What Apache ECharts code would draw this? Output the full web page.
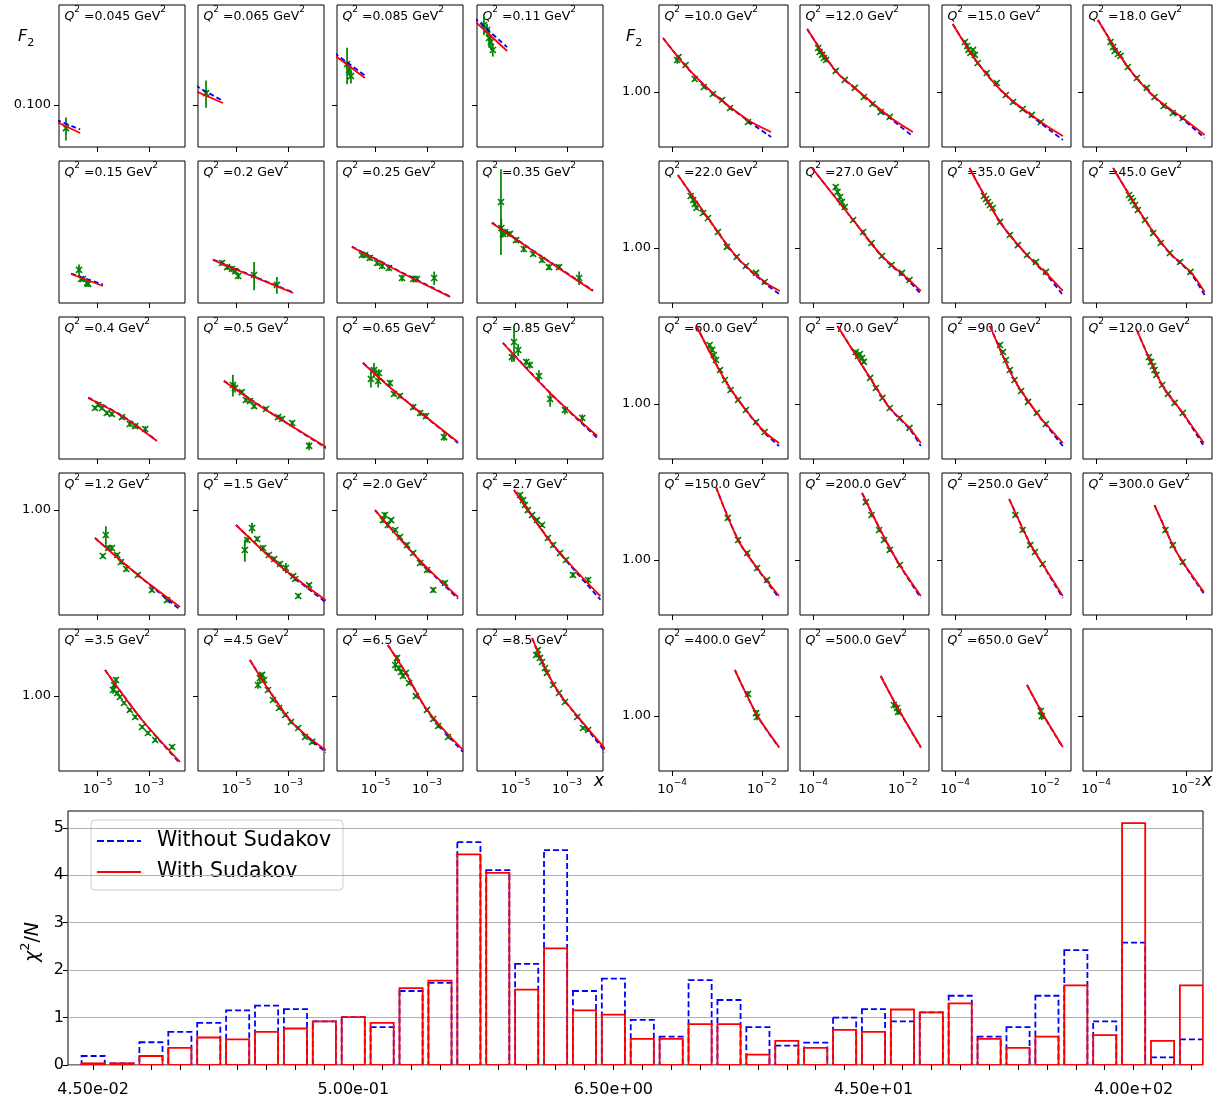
<!DOCTYPE html>
<html>
<head>
<meta charset="utf-8">
<title>F2 fits and chi2/N</title>
<script src="https://cdn.jsdelivr.net/npm/echarts@6/dist/echarts.min.js"></script>
<style>
html, body { margin: 0; padding: 0; background: #ffffff; }
#chart { width: 1231px; height: 1109px; }
</style>
</head>
<body>
<div id="chart"></div>
<script>
// Q^2 bins in GeV^2, one small panel per bin
const q2Values = [0.045, 0.065, 0.085, 0.11, 0.15, 0.2, 0.25, 0.35, 0.4, 0.5, 0.65, 0.85,
  1.2, 1.5, 2.0, 2.7, 3.5, 4.5, 6.5, 8.5, 10.0, 12.0, 15.0, 18.0, 22.0, 27.0, 35.0, 45.0,
  60.0, 70.0, 90.0, 120.0, 150.0, 200.0, 250.0, 300.0, 400.0, 500.0, 650.0];

// chi^2/N of each Q^2 bin
const chi2Without = [0.19, 0.035, 0.48, 0.70, 0.89, 1.15, 1.25, 1.18, 0.92, 1.01, 0.80, 1.56, 1.73,
  4.70, 4.11, 2.13, 4.53, 1.56, 1.82, 0.95, 0.60, 1.79, 1.37, 0.80, 0.41, 0.47, 1.00, 1.18, 0.92,
  1.11, 1.46, 0.60, 0.80, 1.46, 2.42, 0.92, 2.58, 0.16, 0.54];
const chi2With = [0.035, 0.035, 0.19, 0.36, 0.58, 0.54, 0.70, 0.77, 0.92, 1.01, 0.89, 1.62, 1.78,
  4.44, 4.05, 1.59, 2.46, 1.15, 1.06, 0.55, 0.55, 0.86, 0.86, 0.22, 0.51, 0.36, 0.74, 0.70, 1.17,
  1.11, 1.30, 0.55, 0.36, 0.60, 1.68, 0.63, 5.10, 0.51, 1.68];

// model F2(x) per bin: x nodes, F2 with Sudakov factor, F2 without it
const curveX = [
  [2.5e-7, 2.1e-6],
  [2.5e-7, 2.95e-6],
  [2.5e-7, 3.9e-6],
  [2.5e-7, 4.7e-6],
  [9.3e-7, 1.62e-5],
  [1.2e-6, 4.8e-5, 1.6e-3],
  [1.2e-6, 1.07e-4, 7.9e-3],
  [1.2e-6, 1.07e-4, 1.02e-2],
  [4.3e-6, 8.9e-5, 2.0e-3],
  [3.2e-6, 1.4e-4, 3.2e-2],
  [3.2e-6, 8.9e-5, 1.6e-2],
  [3.2e-6, 2.2e-4, 1.5e-2],
  [7.9e-6, 3.7e-4, 1.6e-2],
  [9.5e-6, 4.9e-4, 3.3e-2],
  [9.5e-6, 5.4e-4, 1.6e-2],
  [8.7e-6, 2.9e-4, 2.0e-2],
  [1.95e-5, 5.4e-4, 1.6e-2],
  [3.3e-5, 1.3e-3, 3.3e-2],
  [3.0e-5, 1.5e-4, 1.0e-3, 2.5e-2],
  [4.4e-5, 1.4e-4, 4.9e-4, 2.5e-3, 3.3e-2],
  [6.3e-5, 2.0e-4, 8.1e-4, 4.9e-3, 1.6e-2],
  [7.4e-5, 3.2e-4, 8.5e-4, 5.1e-3, 1.66e-2],
  [8.9e-5, 3.2e-4, 1.35e-3, 8.1e-3, 2.5e-2],
  [1.1e-4, 5.1e-4, 2.0e-3, 8.5e-3, 2.6e-2],
  [1.35e-4, 6.3e-4, 2.75e-3, 1.15e-2, 2.5e-2],
  [9.5e-5, 7.8e-4, 3.4e-3, 1.4e-2, 2.5e-2],
  [2.1e-4, 1.0e-3, 4.0e-3, 1.05e-2, 2.5e-2],
  [2.4e-4, 1.23e-3, 4.4e-3, 1.26e-2, 2.6e-2],
  [3.5e-4, 1.5e-3, 4.4e-3, 1.15e-2, 2.4e-2],
  [3.5e-4, 1.86e-3, 5.1e-3, 1.4e-2, 2.5e-2],
  [6.0e-4, 2.1e-3, 6.6e-3, 1.05e-2, 2.5e-2],
  [8.1e-4, 2.95e-3, 8.5e-3, 2.5e-2],
  [9.5e-4, 2.95e-3, 7.8e-3, 2.4e-2],
  [1.23e-3, 3.4e-3, 8.5e-3, 2.5e-2],
  [1.6e-3, 4.7e-3, 8.9e-3, 2.5e-2],
  [2.0e-3, 5.1e-3, 8.5e-3, 2.5e-2],
  [2.5e-3, 7.8e-3, 2.4e-2],
  [3.2e-3, 7.8e-3, 2.5e-2],
  [4.0e-3, 8.5e-3, 2.5e-2]
];
const curveWith = [
  [0.0815, 0.0711],
  [0.1185, 0.1024],
  [0.183, 0.1388],
  [0.278, 0.1927],
  [0.1667, 0.1455],
  [0.1954, 0.1611, 0.1344],
  [0.2264, 0.1686, 0.1284],
  [0.2972, 0.2021, 0.1375],
  [0.3816, 0.3152, 0.2419],
  [0.4569, 0.336, 0.226],
  [0.5529, 0.3898, 0.2393],
  [0.6834, 0.4023, 0.2551],
  [0.7258, 0.4747, 0.3289],
  [0.8425, 0.5264, 0.3523],
  [1.0, 0.5575, 0.3687],
  [1.259, 0.6697, 0.372],
  [1.375, 0.7462, 0.4466],
  [1.554, 0.7372, 0.5109],
  [1.867, 1.326, 0.8435, 0.5172],
  [2.034, 1.409, 1.038, 0.785, 0.5172],
  [1.979, 1.39, 0.9883, 0.703, 0.6043],
  [2.216, 1.305, 1.053, 0.7303, 0.6043],
  [2.36, 1.443, 0.9638, 0.6855, 0.5746],
  [2.483, 1.372, 0.9397, 0.7211, 0.5819],
  [2.514, 1.461, 0.8937, 0.6518, 0.5819],
  [2.746, 1.425, 0.9049, 0.665, 0.5819],
  [2.746, 1.39, 0.9163, 0.73, 0.5819],
  [2.746, 1.425, 0.9397, 0.7396, 0.5746],
  [2.678, 1.355, 0.9279, 0.703, 0.6119],
  [2.678, 1.39, 0.9517, 0.7396, 0.6119],
  [2.678, 1.355, 0.8937, 0.7777, 0.6119],
  [2.546, 1.272, 0.8937, 0.6119],
  [2.514, 1.288, 0.9049, 0.6355],
  [2.331, 1.407, 0.9397, 0.6355],
  [2.161, 1.225, 0.95, 0.6355],
  [2.003, 1.209, 0.9759, 0.6683],
  [1.788, 1.014, 0.6768],
  [1.658, 1.1, 0.6768],
  [1.48, 1.05, 0.6768]
];
const curveWithout = [
  [0.0835, 0.0742],
  [0.1265, 0.105],
  [0.188, 0.143],
  [0.288, 0.202],
  [0.1675, 0.148],
  [0.1965, 0.162, 0.1352],
  [0.2275, 0.1695, 0.1292],
  [0.2985, 0.203, 0.1385],
  [0.383, 0.3165, 0.243],
  [0.458, 0.337, 0.224],
  [0.555, 0.391, 0.237],
  [0.685, 0.403, 0.25],
  [0.7265, 0.4745, 0.319],
  [0.843, 0.526, 0.343],
  [1.0, 0.557, 0.362],
  [1.259, 0.669, 0.358],
  [1.375, 0.745, 0.44],
  [1.554, 0.736, 0.4985],
  [1.867, 1.325, 0.842, 0.5047],
  [2.034, 1.408, 1.036, 0.78, 0.4985],
  [1.979, 1.39, 0.985, 0.695, 0.5673],
  [2.216, 1.305, 1.05, 0.722, 0.572],
  [2.36, 1.443, 0.96, 0.675, 0.5465],
  [2.483, 1.372, 0.936, 0.71, 0.5604],
  [2.514, 1.461, 0.89, 0.642, 0.558],
  [2.746, 1.425, 0.9, 0.655, 0.5604],
  [2.746, 1.39, 0.912, 0.72, 0.5531],
  [2.746, 1.425, 0.935, 0.73, 0.5531],
  [2.678, 1.355, 0.925, 0.695, 0.5891],
  [2.678, 1.39, 0.948, 0.73, 0.5891],
  [2.678, 1.355, 0.89, 0.77, 0.5891],
  [2.546, 1.272, 0.89, 0.5891],
  [2.514, 1.288, 0.9, 0.6198],
  [2.331, 1.407, 0.935, 0.6198],
  [2.161, 1.225, 0.945, 0.6198],
  [2.003, 1.209, 0.972, 0.6545],
  [1.79, 1.01, 0.672],
  [1.66, 1.097, 0.672],
  [1.482, 1.047, 0.672]
];

// measured F2 per bin: x, F2, error
const dataX = [
  [5.9e-7],
  [6.5e-7],
  [7.8e-7, 9.3e-7, 1.1e-6],
  [5.9e-7, 7.8e-7, 9.3e-7, 1.1e-6, 1.3e-6],
  [1.9e-6, 2.3e-6, 2.7e-6, 3.9e-6, 4.3e-6],
  [2.7e-6, 4.3e-6, 6.6e-6, 8.7e-6, 1.15e-5, 4.8e-5, 3.7e-4],
  [2.95e-6, 3.9e-6, 6.0e-6, 1.15e-5, 1.8e-5, 3.3e-5, 1.07e-4, 2.9e-4, 4.1e-4, 1.9e-3],
  [2.7e-6, 2.8e-6, 3.2e-6, 3.9e-6, 6.0e-6, 1.05e-5, 2.1e-5, 4.8e-5, 1.07e-4, 2.0e-4, 4.9e-4, 2.95e-3],
  [7.9e-6, 1.05e-5, 1.5e-5, 2.3e-5, 3.6e-5, 8.9e-5, 1.8e-4, 2.9e-4, 7.1e-4],
  [7.2e-6, 8.7e-6, 1.6e-5, 2.3e-5, 3.3e-5, 4.8e-5, 1.4e-4, 4.1e-4, 5.9e-4, 1.45e-3, 6.6e-3],
  [6.6e-6, 8.7e-6, 1.26e-5, 1.35e-5, 3.6e-5, 5.2e-5, 8.9e-5, 2.9e-4, 5.4e-4, 9.1e-4, 4.6e-3],
  [7.2e-6, 8.7e-6, 1.26e-5, 2.6e-5, 3.6e-5, 8.1e-5, 2.2e-4, 8.3e-4, 3.9e-3],
  [1.6e-5, 2.1e-5, 2.6e-5, 3.6e-5, 5.8e-5, 8.1e-5, 1.3e-4, 3.7e-4, 1.3e-3, 5.0e-3],
  [2.1e-5, 2.6e-5, 4.0e-5, 6.3e-5, 1.07e-4, 1.8e-4, 2.9e-4, 4.9e-4, 8.3e-4, 1.6e-3, 1.9e-3, 6.6e-3, 2.5e-3],
  [1.95e-5, 2.3e-5, 3.0e-5, 4.0e-5, 5.8e-5, 8.9e-5, 1.66e-4, 2.9e-4, 5.4e-4, 1.0e-3, 1.74e-3, 5.0e-3],
  [1.5e-5, 1.95e-5, 2.3e-5, 3.0e-5, 4.4e-5, 6.8e-5, 1.07e-4, 1.8e-4, 2.9e-4, 5.4e-4, 9.1e-4, 1.7e-3, 6.6e-3],
  [4.0e-5, 4.4e-5, 5.2e-5, 5.8e-5, 7.4e-5, 1.07e-4, 1.8e-4, 2.9e-4, 5.4e-4, 9.1e-4, 1.74e-3, 7.9e-3],
  [6.8e-5, 8.1e-5, 9.8e-5, 1.17e-4, 1.66e-4, 2.6e-4, 4.5e-4, 7.8e-4, 1.3e-3, 2.5e-3, 4.6e-3, 8.7e-3],
  [5.8e-5, 6.8e-5, 8.1e-5, 9.8e-5, 1.17e-4, 1.5e-4, 2.0e-4, 3.7e-4, 1.0e-3, 1.74e-3, 2.7e-3, 6.6e-3],
  [6.3e-5, 7.4e-5, 8.9e-5, 1.07e-4, 1.4e-4, 1.66e-4, 2.9e-4, 4.9e-4, 8.3e-4, 2.5e-3, 4.2e-3, 6.6e-3],
  [1.3e-4, 1.4e-4, 2.0e-4, 3.2e-4, 5.1e-4, 8.1e-4, 1.3e-3, 1.95e-3, 4.9e-3],
  [1.3e-4, 1.4e-4, 1.6e-4, 1.74e-4, 1.95e-4, 3.2e-4, 5.1e-4, 8.5e-4, 1.35e-3, 2.1e-3, 3.2e-3, 5.1e-3],
  [1.66e-4, 1.86e-4, 2.0e-4, 2.2e-4, 2.5e-4, 2.75e-4, 3.2e-4, 5.1e-4, 8.5e-4, 1.35e-3, 1.95e-3, 3.2e-3, 5.1e-3, 8.1e-3],
  [2.1e-4, 2.4e-4, 2.6e-4, 3.1e-4, 3.5e-4, 5.1e-4, 8.1e-4, 1.35e-3, 2.0e-3, 3.2e-3, 5.1e-3, 8.5e-3],
  [2.6e-4, 2.95e-4, 3.2e-4, 3.5e-4, 4.9e-4, 6.3e-4, 1.05e-3, 1.66e-3, 2.75e-3, 4.4e-3, 7.4e-3, 1.15e-2],
  [3.2e-4, 3.5e-4, 4.0e-4, 4.4e-4, 5.1e-4, 7.8e-4, 1.3e-3, 2.0e-3, 3.4e-3, 5.6e-3, 9.5e-3, 1.4e-2],
  [4.4e-4, 4.9e-4, 5.4e-4, 6.0e-4, 6.9e-4, 1.0e-3, 1.66e-3, 2.5e-3, 4.0e-3, 6.3e-3, 1.05e-2],
  [5.4e-4, 6.0e-4, 6.6e-4, 7.4e-4, 8.5e-4, 1.23e-3, 1.86e-3, 2.75e-3, 4.4e-3, 7.4e-3, 1.26e-2],
  [6.9e-4, 7.8e-4, 8.5e-4, 9.5e-4, 1.17e-3, 1.5e-3, 2.0e-3, 2.95e-3, 4.4e-3, 7.4e-3, 1.15e-2],
  [8.9e-4, 1.0e-3, 1.1e-3, 1.23e-3, 1.35e-3, 1.86e-3, 2.5e-3, 3.5e-3, 5.1e-3, 8.5e-3, 1.4e-2],
  [1.0e-3, 1.17e-3, 1.35e-3, 1.66e-3, 2.1e-3, 2.95e-3, 4.2e-3, 6.6e-3, 1.05e-2],
  [1.5e-3, 1.66e-3, 1.86e-3, 2.0e-3, 2.2e-3, 2.95e-3, 4.0e-3, 5.6e-3, 8.5e-3],
  [1.74e-3, 2.95e-3, 4.7e-3, 7.8e-3, 1.3e-2],
  [1.5e-3, 2.0e-3, 2.95e-3, 3.8e-3, 5.1e-3, 8.5e-3],
  [2.2e-3, 3.2e-3, 4.7e-3, 6.0e-3, 8.9e-3],
  [3.5e-3, 5.1e-3, 8.5e-3],
  [4.9e-3, 7.4e-3, 7.8e-3],
  [6.3e-3, 7.4e-3, 7.8e-3],
  [8.1e-3, 8.5e-3]
];
const dataF2 = [
  [0.0755],
  [0.1156],
  [0.1645, 0.153, 0.142],
  [0.2643, 0.2487, 0.2257, 0.215, 0.195],
  [0.1745, 0.1575, 0.1575, 0.1505, 0.1489],
  [0.1888, 0.1804, 0.1764, 0.1724, 0.163, 0.1648, 0.1472],
  [0.2067, 0.2067, 0.1999, 0.1888, 0.1825, 0.1784, 0.1593, 0.1575, 0.1575, 0.1593],
  [0.377, 0.2808, 0.2624, 0.2684, 0.2624, 0.245, 0.2213, 0.2091, 0.1954, 0.1804, 0.1804, 0.1593],
  [0.3432, 0.3543, 0.3432, 0.3255, 0.3221, 0.3119, 0.2897, 0.2836, 0.2748],
  [0.438, 0.4241, 0.4065, 0.3736, 0.3696, 0.3505, 0.3396, 0.3119, 0.3055, 0.2928, 0.2296],
  [0.4667, 0.5132, 0.4569, 0.4972, 0.4473, 0.3981, 0.3898, 0.3468, 0.3255, 0.3152, 0.2524],
  [0.589, 0.6906, 0.6344, 0.5588, 0.5413, 0.4817, 0.3776, 0.336, 0.3087],
  [0.5903, 0.7511, 0.6471, 0.6471, 0.5971, 0.5511, 0.5085, 0.4747, 0.3996, 0.3562],
  [0.6324, 0.7094, 0.814, 0.7176, 0.6471, 0.5971, 0.5704, 0.5386, 0.5144, 0.4692, 0.4534, 0.4231, 0.373],
  [0.892, 0.945, 0.8425, 0.892, 0.7956, 0.7342, 0.6697, 0.6109, 0.5448, 0.5027, 0.3996, 0.4331],
  [1.189, 1.122, 1.06, 1.0, 0.945, 0.892, 0.8425, 0.7258, 0.6697, 0.6109, 0.5639, 0.4747, 0.4482],
  [1.077, 1.145, 1.217, 1.038, 0.9886, 0.9188, 0.8435, 0.774, 0.685, 0.6365, 0.5843, 0.5364],
  [1.145, 1.247, 1.294, 1.217, 1.077, 0.953, 0.8641, 0.7934, 0.7283, 0.6767, 0.6062, 0.5704],
  [1.462, 1.593, 1.409, 1.342, 1.278, 1.326, 1.173, 1.0, 0.8435, 0.7554, 0.6936, 0.6062],
  [1.652, 1.756, 1.593, 1.516, 1.409, 1.326, 1.145, 1.038, 0.93, 0.774, 0.6767, 0.6603],
  [1.499, 1.557, 1.407, 1.179, 1.066, 0.9759, 0.9049, 0.818, 0.6855],
  [1.744, 1.658, 1.597, 1.537, 1.499, 1.305, 1.165, 1.053, 0.9397, 0.8602, 0.7777, 0.7303],
  [1.881, 1.788, 1.701, 1.637, 1.701, 1.597, 1.443, 1.272, 1.121, 0.9638, 0.882, 0.8077, 0.749, 0.6855],
  [1.881, 1.766, 1.679, 1.617, 1.577, 1.372, 1.194, 1.053, 0.9397, 0.8389, 0.768, 0.7211],
  [1.929, 1.834, 1.744, 1.658, 1.557, 1.461, 1.225, 1.014, 0.8937, 0.7975, 0.7303, 0.6518],
  [2.161, 2.029, 1.905, 1.788, 1.679, 1.425, 1.225, 1.066, 0.9049, 0.8077, 0.7303, 0.6683],
  [1.929, 1.857, 1.788, 1.722, 1.658, 1.39, 1.179, 1.039, 0.9163, 0.8389, 0.7396],
  [1.953, 1.881, 1.811, 1.722, 1.617, 1.425, 1.209, 1.066, 0.9397, 0.8389, 0.7396],
  [2.107, 1.979, 1.857, 1.744, 1.537, 1.355, 1.194, 1.053, 0.9279, 0.7975, 0.703],
  [1.929, 1.834, 1.881, 1.788, 1.701, 1.39, 1.225, 1.08, 0.9517, 0.8389, 0.7396],
  [2.107, 1.929, 1.744, 1.537, 1.355, 1.179, 1.027, 0.8937, 0.7777],
  [1.811, 1.701, 1.617, 1.537, 1.443, 1.272, 1.136, 1.014, 0.8937],
  [1.701, 1.288, 1.093, 0.9049, 0.7777],
  [2.08, 1.766, 1.461, 1.288, 1.136, 0.9397],
  [1.766, 1.461, 1.209, 1.107, 0.9517],
  [1.461, 1.209, 0.9759],
  [1.321, 1.039, 0.9883],
  [1.15, 1.107, 1.053],
  [1.066, 1.0]
];
const dataErr = [
  [0.0105],
  [0.019],
  [0.036, 0.01, 0.012],
  [0.03, 0.02, 0.025, 0.02, 0.015],
  [0.011, 0.004, 0.004, 0.005, 0.005],
  [0.006, 0.006, 0.006, 0.006, 0.006, 0.026, 0.014],
  [0.006, 0.006, 0.006, 0.006, 0.006, 0.006, 0.006, 0.006, 0.006, 0.012],
  [0.17, 0.03, 0.01, 0.01, 0.008, 0.008, 0.008, 0.006, 0.006, 0.006, 0.006, 0.012],
  [0.008, 0.008, 0.008, 0.008, 0.008, 0.008, 0.008, 0.008, 0.008],
  [0.05, 0.02, 0.01, 0.01, 0.01, 0.01, 0.008, 0.008, 0.008, 0.008, 0.01],
  [0.04, 0.04, 0.03, 0.02, 0.015, 0.01, 0.01, 0.01, 0.01, 0.01, 0.01],
  [0.03, 0.13, 0.04, 0.02, 0.02, 0.03, 0.03, 0.015, 0.012],
  [0.015, 0.08, 0.02, 0.02, 0.015, 0.015, 0.015, 0.012, 0.01, 0.01],
  [0.08, 0.02, 0.05, 0.02, 0.02, 0.015, 0.015, 0.015, 0.03, 0.012, 0.012, 0.01, 0.01],
  [0.03, 0.03, 0.03, 0.02, 0.02, 0.02, 0.02, 0.015, 0.015, 0.015, 0.012, 0.012],
  [0.03, 0.03, 0.03, 0.03, 0.02, 0.02, 0.02, 0.02, 0.02, 0.015, 0.015, 0.015, 0.015],
  [0.05, 0.06, 0.04, 0.03, 0.02, 0.02, 0.02, 0.02, 0.015, 0.015, 0.015, 0.015],
  [0.05, 0.07, 0.04, 0.04, 0.03, 0.02, 0.02, 0.02, 0.015, 0.015, 0.015, 0.015],
  [0.1, 0.06, 0.05, 0.04, 0.04, 0.03, 0.03, 0.02, 0.02, 0.02, 0.02, 0.015],
  [0.05, 0.05, 0.04, 0.04, 0.03, 0.03, 0.02, 0.02, 0.02, 0.015, 0.015, 0.015],
  [0.07, 0.04, 0.03, 0.03, 0.02, 0.02, 0.02, 0.02, 0.015],
  [0.05, 0.05, 0.04, 0.04, 0.04, 0.03, 0.02, 0.02, 0.02, 0.02, 0.015, 0.015],
  [0.05, 0.05, 0.04, 0.04, 0.04, 0.04, 0.03, 0.03, 0.02, 0.02, 0.02, 0.02, 0.015, 0.015],
  [0.05, 0.05, 0.04, 0.04, 0.04, 0.03, 0.03, 0.02, 0.02, 0.02, 0.015, 0.015],
  [0.05, 0.05, 0.04, 0.04, 0.04, 0.03, 0.03, 0.02, 0.02, 0.02, 0.015, 0.015],
  [0.06, 0.05, 0.05, 0.04, 0.04, 0.03, 0.03, 0.02, 0.02, 0.02, 0.015, 0.015],
  [0.05, 0.05, 0.04, 0.04, 0.04, 0.03, 0.03, 0.02, 0.02, 0.02, 0.015],
  [0.05, 0.05, 0.04, 0.04, 0.04, 0.03, 0.03, 0.02, 0.02, 0.02, 0.015],
  [0.05, 0.05, 0.04, 0.04, 0.04, 0.03, 0.03, 0.02, 0.02, 0.02, 0.015],
  [0.05, 0.05, 0.04, 0.04, 0.04, 0.03, 0.03, 0.02, 0.02, 0.02, 0.015],
  [0.06, 0.05, 0.04, 0.04, 0.03, 0.03, 0.02, 0.02, 0.02],
  [0.06, 0.05, 0.04, 0.04, 0.03, 0.03, 0.02, 0.02, 0.02],
  [0.05, 0.04, 0.03, 0.03, 0.02],
  [0.06, 0.05, 0.04, 0.03, 0.03, 0.02],
  [0.05, 0.04, 0.03, 0.03, 0.02],
  [0.05, 0.04, 0.03],
  [0.05, 0.04, 0.04],
  [0.05, 0.05, 0.04],
  [0.05, 0.05]
];

// axis limits and tick values
const leftXRange = [3.16e-7, 2.51e-2];
const rightXRange = [5.13e-5, 3.8e-2];
const leftXTicks = [1e-5, 1e-3];
const rightXTicks = [1e-4, 1e-2];
const leftRowYRange = [[0.06, 0.337], [0.12, 0.6], [0.2, 0.9], [0.3, 1.53], [0.4, 2.27]];
const rightYRange = [0.5, 3.0];
const leftRowYTicks = [[0.1], [], [], [1], [1]];
const rightYTicks = [1];
const chiTicks = [0, 1, 2, 3, 4, 5];
const chiRange = [0, 5.355];
const binRange = [-0.87, 38.4];

// page layout (px)
const leftCols = [59, 198, 337, 477], leftW = 126;
const rightCols = [659, 800, 942, 1083], rightW = 129;
const rowTops = [5, 161, 317, 473, 629], panelH = 142;
const chiGrid = { left: 68, top: 811, width: 1135, height: 254 };

const FAMILY = 'DejaVu Sans';
const GREEN = '#008000', BLUE = '#0000ff', RED = '#ff0000';

function q2Text(v) { return Number.isInteger(v) ? v.toFixed(1) : String(v); }
function sciText(v) {
  const parts = v.toExponential(2).split('e');
  const n = parseInt(parts[1], 10);
  return parts[0] + 'e' + (n < 0 ? '-' : '+') + String(Math.abs(n)).padStart(2, '0');
}
function powerText(v) {
  const n = Math.round(Math.log10(v));
  return '{b|10}{s|' + (n < 0 ? '\u2212' : '') + Math.abs(n) + '}';
}

const powerRich = {
  b: { fontFamily: FAMILY, fontSize: 13, color: '#000', lineHeight: 18, verticalAlign: 'bottom' },
  s: { fontFamily: FAMILY, fontSize: 9, color: '#000', lineHeight: 9, verticalAlign: 'top' }
};
const titleRich = {
  q: { fontFamily: FAMILY, fontStyle: 'italic', fontSize: 12.5, fill: '#000', lineHeight: 18, verticalAlign: 'bottom' },
  t: { fontFamily: FAMILY, fontSize: 12.5, fill: '#000', lineHeight: 18, verticalAlign: 'bottom' },
  s: { fontFamily: FAMILY, fontSize: 9, fill: '#000', lineHeight: 9, verticalAlign: 'top' }
};

const grids = [], xAxes = [], yAxes = [], series = [], graphics = [];

// vertical error bar plus an 'x' marker at each measurement
function errorMarks(params, api) {
  const x = api.value(0), y = api.value(1), e = api.value(2);
  const c = api.coord([x, y]);
  const t = api.coord([x, y + e]);
  const b = api.coord([x, y - e]);
  const m = 3;
  const st = { stroke: GREEN, lineWidth: 1.7 };
  return {
    type: 'group',
    children: [
      { type: 'line', shape: { x1: c[0], y1: t[1], x2: c[0], y2: b[1] }, style: st },
      { type: 'line', shape: { x1: c[0] - m, y1: c[1] - m, x2: c[0] + m, y2: c[1] + m }, style: st },
      { type: 'line', shape: { x1: c[0] - m, y1: c[1] + m, x2: c[0] + m, y2: c[1] - m }, style: st }
    ]
  };
}

for (let p = 0; p < 40; p++) {
  const onRight = p >= 20;
  const k = p % 20, r = Math.floor(k / 4), c = k % 4;
  const left = onRight ? rightCols[c] : leftCols[c];
  const w = onRight ? rightW : leftW;
  const top = rowTops[r];
  grids.push({
    left: left, top: top, width: w, height: panelH,
    show: true, borderColor: '#000', borderWidth: 1, backgroundColor: 'transparent',
    containLabel: false, outerBoundsMode: 'none'
  });
  const xr = onRight ? rightXRange : leftXRange;
  const xt = onRight ? rightXTicks : leftXTicks;
  xAxes.push({
    gridIndex: p, type: 'log', logBase: 10, min: xr[0], max: xr[1],
    axisLine: { show: false }, splitLine: { show: false }, minorTick: { show: false },
    axisTick: { show: true, length: 5, customValues: xt, lineStyle: { color: '#000', width: 1 } },
    axisLabel: { show: r === 4, customValues: xt, formatter: powerText, rich: powerRich, margin: 7 }
  });
  const yr = onRight ? rightYRange : leftRowYRange[r];
  const yt = onRight ? rightYTicks : leftRowYTicks[r];
  yAxes.push({
    gridIndex: p, type: 'log', logBase: 10, min: yr[0], max: yr[1],
    axisLine: { show: false }, splitLine: { show: false }, minorTick: { show: false },
    axisTick: { show: yt.length > 0, length: 5, customValues: yt, lineStyle: { color: '#000', width: 1 } },
    axisLabel: {
      show: c === 0 && yt.length > 0, customValues: yt,
      formatter: function (v) { return Number(v).toPrecision(3); },
      fontFamily: FAMILY, fontSize: 13, color: '#000', margin: 8
    }
  });

  if (p >= q2Values.length) continue;

  series.push({
    type: 'custom', name: 'data', xAxisIndex: p, yAxisIndex: p, z: 2, silent: true,
    data: dataX[p].map(function (x, j) { return [x, dataF2[p][j], dataErr[p][j]]; }),
    renderItem: errorMarks
  });
  series.push({
    type: 'line', name: 'Without Sudakov', xAxisIndex: p, yAxisIndex: p, z: 3, silent: true,
    data: curveX[p].map(function (x, j) { return [x, curveWithout[p][j]]; }),
    showSymbol: false, symbol: 'none', smooth: 0.3, clip: true,
    lineStyle: { color: BLUE, width: 1.8, type: [5, 3] }
  });
  series.push({
    type: 'line', name: 'With Sudakov', xAxisIndex: p, yAxisIndex: p, z: 4, silent: true,
    data: curveX[p].map(function (x, j) { return [x, curveWith[p][j]]; }),
    showSymbol: false, symbol: 'none', smooth: 0.3, clip: true,
    lineStyle: { color: RED, width: 1.8, type: 'solid' }
  });

  graphics.push({
    type: 'text', x: left + 5.5, y: top, z: 1, silent: true,
    style: {
      text: '{q|Q}{s|2}{t| =' + q2Text(q2Values[p]) + ' GeV}{s|2}',
      fill: '#000', verticalAlign: 'top', align: 'left', rich: titleRich
    }
  });
}

// chi^2/N comparison at the bottom
const CHI = 40;
grids.push({
  left: chiGrid.left, top: chiGrid.top, width: chiGrid.width, height: chiGrid.height,
  show: true, borderColor: '#000', borderWidth: 1, backgroundColor: 'transparent',
  containLabel: false, outerBoundsMode: 'none'
});
const binIndex = q2Values.map(function (v, i) { return i; });
xAxes.push({
  gridIndex: CHI, type: 'value', min: binRange[0], max: binRange[1],
  axisLine: { show: false, onZero: false }, splitLine: { show: false },
  axisTick: { show: true, length: 5, customValues: binIndex, lineStyle: { color: '#000' } },
  axisLabel: {
    customValues: binIndex.filter(function (i) { return i % 9 === 0; }),
    formatter: function (v) { return sciText(q2Values[Math.round(v)]); },
    fontFamily: FAMILY, fontSize: 16, color: '#000', margin: 17
  }
});
yAxes.push({
  gridIndex: CHI, type: 'value', min: chiRange[0], max: chiRange[1], interval: 1,
  axisLine: { show: false, onZero: false },
  splitLine: { show: true, lineStyle: { color: '#b0b0b0', width: 1 } },
  axisTick: { show: true, length: 5, customValues: chiTicks, lineStyle: { color: '#000' } },
  axisLabel: { customValues: chiTicks, fontFamily: FAMILY, fontSize: 16, color: '#000', margin: 4 }
});

// outline-only bars, one per Q^2 bin
function outlineBars(values, color, dash, z, name) {
  return {
    type: 'custom', name: name, xAxisIndex: CHI, yAxisIndex: CHI, z: z, clip: true, silent: true,
    data: values.map(function (v, i) { return [i, v]; }),
    renderItem: function (params, api) {
      const i = api.value(0), v = api.value(1);
      const a = api.coord([i - 0.4, v]);
      const b = api.coord([i + 0.4, 0]);
      return {
        type: 'rect',
        shape: { x: a[0], y: a[1], width: b[0] - a[0], height: b[1] - a[1] },
        style: { fill: 'none', stroke: color, lineWidth: 1.8, lineDash: dash }
      };
    }
  };
}
series.push(outlineBars(chi2Without, BLUE, [6, 3], 3, 'Without Sudakov'));
series.push(outlineBars(chi2With, RED, null, 4, 'With Sudakov'));

// axis titles and legend
const f2Rich = {
  f: { fontFamily: FAMILY, fontStyle: 'italic', fontSize: 16, fill: '#000', lineHeight: 20, verticalAlign: 'top' },
  u: { fontFamily: FAMILY, fontSize: 11, fill: '#000', lineHeight: 11, verticalAlign: 'bottom' }
};
[18, 626].forEach(function (xp) {
  graphics.push({
    type: 'text', x: xp, y: 29, silent: true,
    style: { text: '{f|F}{u|2}', fill: '#000', verticalAlign: 'top', rich: f2Rich }
  });
});
[594, 1202].forEach(function (xp) {
  graphics.push({
    type: 'text', x: xp, y: 782, silent: true,
    style: { text: 'x', fill: '#000', font: 'italic 17px "DejaVu Sans"', verticalAlign: 'middle', align: 'left' }
  });
});
graphics.push({
  type: 'text', x: 31, y: 942, rotation: Math.PI / 2, silent: true,
  style: {
    text: '{c|\u03c7}{s|2}{n|/}{c|N}', fill: '#000', align: 'center', verticalAlign: 'middle',
    rich: {
      c: { fontFamily: FAMILY, fontStyle: 'italic', fontSize: 19, fill: '#000', lineHeight: 24, verticalAlign: 'bottom' },
      n: { fontFamily: FAMILY, fontSize: 19, fill: '#000', lineHeight: 24, verticalAlign: 'bottom' },
      s: { fontFamily: FAMILY, fontSize: 13, fill: '#000', lineHeight: 13, verticalAlign: 'top' }
    }
  }
});
graphics.push({
  type: 'group', silent: true, z: 10,
  children: [
    { type: 'rect', shape: { x: 91, y: 820, width: 252, height: 70, r: 4 },
      style: { fill: 'rgba(255,255,255,0.8)', stroke: '#cccccc', lineWidth: 1 } },
    { type: 'line', shape: { x1: 97, y1: 841, x2: 141, y2: 841 },
      style: { stroke: BLUE, lineWidth: 2, lineDash: [7, 3] } },
    { type: 'line', shape: { x1: 97, y1: 872, x2: 141, y2: 872 },
      style: { stroke: RED, lineWidth: 2 } },
    { type: 'text', x: 157, y: 841,
      style: { text: 'Without Sudakov', fill: '#000', font: '20.5px "DejaVu Sans"', verticalAlign: 'middle' } },
    { type: 'text', x: 157, y: 872,
      style: { text: 'With Sudakov', fill: '#000', font: '20.5px "DejaVu Sans"', verticalAlign: 'middle' } }
  ]
});

const chart = echarts.init(document.getElementById('chart'), null, { renderer: 'canvas' });
chart.setOption({
  animation: false,
  backgroundColor: '#ffffff',
  textStyle: { fontFamily: FAMILY },
  grid: grids,
  xAxis: xAxes,
  yAxis: yAxes,
  series: series,
  graphic: graphics
});
</script>
</body>
</html>
